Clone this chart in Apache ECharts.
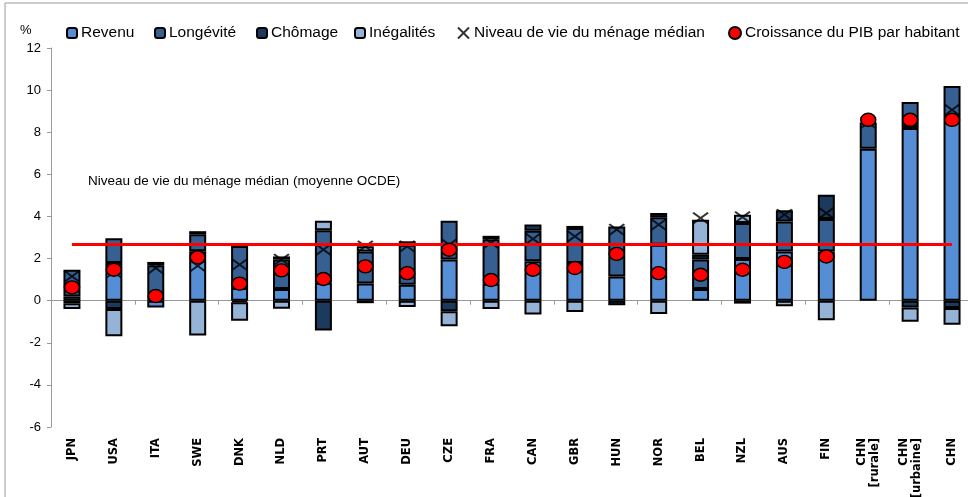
<!DOCTYPE html>
<html><head><meta charset="utf-8">
<script src="https://cdn.jsdelivr.net/npm/echarts@6/dist/echarts.min.js"></script>
<style>html,body{margin:0;padding:0;background:#fff}#c{width:968px;height:497px}</style>
</head><body><div id="c"></div>
<script>
const categories = ['JPN','USA','ITA','SWE','DNK','NLD','PRT','AUT','DEU','CZE','FRA','CAN','GBR','HUN','NOR','BEL','NZL','AUS','FIN','CHN\n[rurale]','CHN\n[urbaine]','CHN'];
const revenu     = [0.2, 1.79, -0.33, 2.35, 0.6, 0.55, 0.85, 0.81, 0.76, 1.95, 0.8, 1.87, 1.79, 1.15, 2.66, 0.55, 1.98, 2.34, 2.34, 7.21, 8.2, 8.59];
const longevite  = [1.27, 1.18, 1.68, 0.8, 2.0, 1.4, 2.49, 1.53, 1.9, 1.85, 2.12, 1.45, 1.66, 2.37, 1.3, 1.4, 1.71, 1.42, 1.54, 1.25, 1.23, 1.61];
const chomage    = [-0.12, -0.4, 0.16, 0.15, -0.08, 0.15, -1.42, -0.12, 0.16, -0.5, 0.16, 0.3, 0.1, -0.22, 0.2, 0.23, -0.14, 0.53, 1.15, null, -0.32, -0.35];
const inegalites = [-0.27, -1.29, null, -1.66, -0.87, -0.38, 0.46, 0.25, -0.3, -0.72, -0.4, -0.66, -0.54, null, -0.63, 1.66, 0.39, -0.27, -0.93, null, -0.68, -0.79];
const niveauVie  = [1.15, 1.35, 1.55, 1.65, 1.71, 1.95, 2.42, 2.58, 2.58, 2.66, 2.74, 2.93, 3.05, 3.37, 3.61, 3.92, 3.97, 4.08, 4.16, 8.45, 8.5, 9.06];
const croissPIB  = [0.63, 1.47, 0.22, 2.06, 0.81, 1.44, 1.03, 1.63, 1.31, 2.42, 0.98, 1.47, 1.55, 2.22, 1.31, 1.23, 1.47, 1.84, 2.1, 8.59, 8.59, 8.59];
const moyenneOCDE = 2.7;
const yTicks = [-6, -4, -2, 0, 2, 4, 6, 8, 10, 12];

const FONT = '"Liberation Sans", Arial, sans-serif';
const chart = echarts.init(document.getElementById('c'));
const barStyle = (c) => ({ color: c, borderColor: '#000', borderWidth: 2 });
const legendBase = { top: 20, itemWidth: 10, itemHeight: 10, itemGap: 4, textStyle: { fontFamily: FONT, fontSize: 15.5, color: '#000', padding: [0,0,0,-1] } };
const xPath = 'path://M0,0L10,10M10,0L0,10';

chart.setOption({
  animation: false,
  textStyle: { fontFamily: FONT },
  grid: { left: 51, top: 48, width: 922, height: 379, outerBoundsMode: 'none', containLabel: false },
  legend: [
    Object.assign({}, legendBase, { left: 61, data: ['Revenu'] }),
    Object.assign({}, legendBase, { left: 149, data: ['Longévité'] }),
    Object.assign({}, legendBase, { left: 251, data: ['Chômage'] }),
    Object.assign({}, legendBase, { left: 349, data: ['Inégalités'] }),
    Object.assign({}, legendBase, { left: 452, itemWidth: 13, itemHeight: 11, data: ['Niveau de vie du ménage médian'] }),
    Object.assign({}, legendBase, { left: 723, itemWidth: 12, itemHeight: 12, data: ['Croissance du PIB par habitant'] })
  ],
  xAxis: [
    { type: 'category', data: categories, position: 'bottom',
      axisLine: { onZero: true, lineStyle: { color: '#999', width: 1 } },
      axisTick: { show: true, length: 4, lineStyle: { color: '#999' } },
      axisLabel: { show: false }, splitLine: { show: false } },
    { type: 'category', data: categories, position: 'bottom', gridIndex: 0,
      axisLine: { show: false, onZero: false }, axisTick: { show: false },
      axisLabel: { rotate: 90, margin: 11, fontSize: 11.5, fontWeight: 'bold', color: '#000', lineHeight: 13, fontFamily: '"DejaVu Sans", sans-serif' } }
  ],
  yAxis: {
    type: 'value', min: -6, max: 12, interval: 2,
    axisLine: { show: true, lineStyle: { color: '#999' } },
    axisTick: { show: true, length: 4, lineStyle: { color: '#999' } },
    axisLabel: { fontSize: 13, color: '#000', margin: 10, customValues: yTicks },
    splitLine: { show: false }
  },
  graphic: [
    { type: 'rect', shape: { x: 5, y: 3, width: 975, height: 510 }, style: { fill: 'none', stroke: '#9a9a9a', lineWidth: 1 }, silent: true },
    { type: 'text', left: 20, top: 24, style: { text: '%', fontSize: 13, fill: '#000', fontFamily: FONT } },
    { type: 'text', left: 88, top: 174, style: { text: 'Niveau de vie du ménage médian (moyenne OCDE)', fontSize: 13.5, fill: '#000', fontFamily: FONT } }
  ],
  series: [
    { name: 'Revenu', type: 'bar', stack: 's', data: revenu, barWidth: 17, itemStyle: barStyle('#558ED5'), z: 2 },
    { name: 'Longévité', type: 'bar', stack: 's', data: longevite, itemStyle: barStyle('#376092'), z: 2 },
    { name: 'Chômage', type: 'bar', stack: 's', data: chomage, itemStyle: barStyle('#1B3A5E'), z: 2 },
    { name: 'Inégalités', type: 'bar', stack: 's', data: inegalites, itemStyle: barStyle('#95B3D7'), z: 2,
      markLine: { silent: true, symbol: 'none', label: { show: false },
        lineStyle: { color: '#FF0000', width: 3, type: 'solid' },
        data: [[{ xAxis: categories[0], yAxis: moyenneOCDE }, { xAxis: categories[categories.length - 1], yAxis: moyenneOCDE }]] } },
    { name: 'Niveau de vie du ménage médian', type: 'scatter', data: niveauVie, symbol: xPath, symbolSize: [15, 11],
      itemStyle: { color: 'rgba(0,0,0,0)', borderColor: '#000', borderWidth: 2 }, z: 4 },
    { name: 'Croissance du PIB par habitant', type: 'scatter', data: croissPIB, symbol: 'circle', symbolSize: [15, 13],
      itemStyle: { color: '#FF0000', borderColor: '#000', borderWidth: 1.5, opacity: 1 }, z: 5 }
  ]
});
</script></body></html>
